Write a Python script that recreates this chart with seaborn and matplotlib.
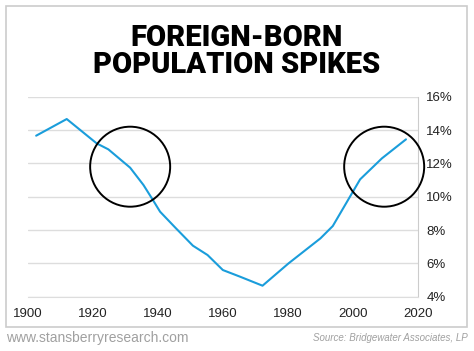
import pandas as pd
import numpy as np
import matplotlib.pyplot as plt
import seaborn as sns
from matplotlib.patches import Ellipse, Rectangle

# Foreign-born share of US population (%)
years = [1902.6, 1912.0, 1921.2, 1924.8, 1931.5, 1935.6, 1938.5, 1940.7, 1945.3,
         1950.8, 1955.3, 1960.0, 1965.3, 1972.2, 1980.2, 1990.0, 1993.8, 2002.2,
         2008.9, 2016.3]
share = [13.66, 14.66, 13.2, 12.84, 11.74, 10.7, 9.8, 9.1, 8.16,
         7.06, 6.5, 5.6, 5.2, 4.66, 6.0, 7.5, 8.24, 11.04,
         12.3, 13.44]
x_ticks = [1900, 1920, 1940, 1960, 1980, 2000, 2020]
y_ticks = [4, 6, 8, 10, 12, 14, 16]
y_labels = [f"{v}%" for v in y_ticks]
circles = [(1931.5, 11.8), (2009.6, 11.8)]

df = pd.DataFrame({"year": years, "share": share})

sns.set_style("white")
plt.rcParams["font.family"] = ["Liberation Sans", "DejaVu Sans"]

fig = plt.figure(figsize=(4.74, 3.51), dpi=100)
ax = fig.add_axes([27.7 / 474, 54.3 / 351, 390.3 / 474, 200 / 351])

# outer frame
fig.patches.append(Rectangle((6 / 474, 24 / 351), 461 / 474, 321 / 351,
                             transform=fig.transFigure, fill=False,
                             edgecolor="#cccccc", lw=1.2))

sns.lineplot(data=df, x="year", y="share", ax=ax, color="#1a9ddb", lw=1.5)

for cx, cy in circles:
    ax.add_patch(Ellipse((cx, cy), 24.6, 4.8, fill=False, edgecolor="black",
                         lw=1.4, clip_on=False, zorder=5))

ax.set_xlim(1900, 2020)
ax.set_ylim(4, 16)
ax.set_xticks(x_ticks)
ax.set_yticks(y_ticks)
ax.set_yticklabels(y_labels)
ax.yaxis.tick_right()
ax.tick_params(axis="y", length=0, pad=6, labelsize=9.5, colors="#222222")
ax.tick_params(axis="x", length=4, color="#cccccc", labelsize=9.5, labelcolor="#222222", pad=4)
ax.grid(axis="y", color="#dddddd", lw=1)
ax.set_axisbelow(True)
ax.set_xlabel("")
ax.set_ylabel("")
for s in ["top", "left"]:
    ax.spines[s].set_visible(False)
ax.spines["right"].set_color("#cccccc")
ax.spines["bottom"].set_color("#dddddd")

fig.text(237 / 474, 1 - 38 / 351, "FOREIGN-BORN", ha="center", va="center", color="black",
         fontsize=21, fontweight="black", family=["Roboto", "DejaVu Sans"])
fig.text(237 / 474, 1 - 65 / 351, "POPULATION SPIKES", ha="center", va="center", color="black",
         fontsize=21, fontweight="black", family=["Roboto", "DejaVu Sans"])

fig.text(6 / 474, 1 - 338 / 351, "www.stansberryresearch.com", ha="left", va="center",
         fontsize=10, color="#a0a0a0")
fig.text(468 / 474, 1 - 338 / 351, "Source: Bridgewater Associates, LP", ha="right",
         va="center", fontsize=7, color="#a0a0a0", style="italic")

fig.savefig("out.png", dpi=100)
